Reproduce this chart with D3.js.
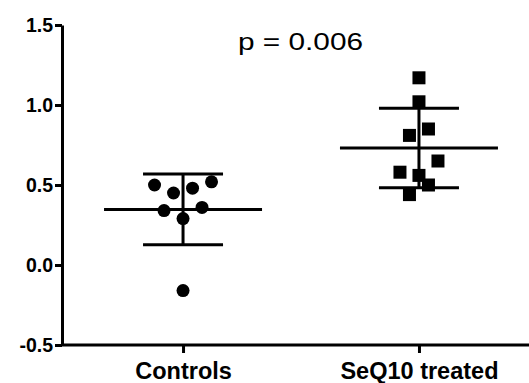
<!DOCTYPE html>
<html>
<head>
<meta charset="utf-8">
<script src="https://cdn.jsdelivr.net/npm/d3@7"></script>
<style>
  body { margin: 0; background: #fff; }
  svg { display: block; font-family: "Liberation Sans", Arial, sans-serif; }
</style>
</head>
<body>
<figure id="scatter" style="margin:0"></figure>
<script>
// data
const groups = ["Controls", "SeQ10 treated"];
const controlValues = [0.50, 0.45, 0.48, 0.52, 0.34, 0.36, 0.29, -0.16];
const controlSlots  = [-3, -1, 1, 3, -2, 2, 0, 0];
const treatedValues = [1.17, 1.02, 0.85, 0.81, 0.65, 0.58, 0.56, 0.50, 0.44];
const treatedSlots  = [0, 0, 1, -1, 2, -2, 0, 1, -1];
const yTicks = [-0.5, 0.0, 0.5, 1.0, 1.5];
const pLabel = "p = 0.006";

const width = 529, height = 383;
const svg = d3.select("figure#scatter")
  .append("svg")
  .attr("width", width)
  .attr("height", height);

const y = d3.scaleLinear().domain([-0.5, 1.5]).range([345, 25]);
const x = d3.scalePoint().domain(groups).range([62, 540]).padding(0.513);
const jitter = d3.scaleLinear().domain([-1, 1]).range([-9.5, 9.5]);

// Y axis
const yAxis = svg.append("g")
  .attr("transform", "translate(62,0)")
  .call(d3.axisLeft(y).tickValues(yTicks).tickSize(7).tickSizeOuter(0)
    .tickFormat(d => d.toFixed(1)));
yAxis.select(".domain").attr("stroke-width", 3);
yAxis.selectAll(".tick line").attr("stroke-width", 3);
yAxis.selectAll(".tick text")
  .attr("x", -9).attr("dy", "0.35em")
  .style("font-size", "19.5px").style("font-weight", "bold").attr("fill", "#000");

// X axis
const xAxis = svg.append("g")
  .attr("transform", "translate(0,345)")
  .call(d3.axisBottom(x).tickSize(8).tickSizeOuter(0));
xAxis.select(".domain").remove();
xAxis.append("line")
  .attr("x1", 61).attr("x2", width)
  .attr("stroke", "#000").attr("stroke-width", 3);
xAxis.selectAll(".tick line").attr("stroke-width", 3);
xAxis.selectAll(".tick text")
  .attr("y", 34).attr("dy", 0)
  .style("font-size", "23.5px").style("font-weight", "bold").attr("fill", "#000");

// points
const sets = [
  { group: groups[0], values: controlValues, slots: controlSlots, shape: "circle" },
  { group: groups[1], values: treatedValues, slots: treatedSlots, shape: "square" }
];

sets.forEach(s => {
  const cx = x(s.group);
  const m = d3.mean(s.values);
  const sd = d3.deviation(s.values);
  const pts = s.values.map((v, i) => ({ v: v, slot: s.slots[i] }));
  const g = svg.append("g");

  if (s.shape === "circle") {
    g.selectAll("circle")
      .data(pts)
      .enter()
      .append("circle")
      .attr("cx", d => cx + jitter(d.slot))
      .attr("cy", d => y(d.v))
      .attr("r", 6.5)
      .attr("fill", "#000");
  } else {
    g.selectAll("rect")
      .data(pts)
      .enter()
      .append("rect")
      .attr("x", d => cx + jitter(d.slot) - 6.5)
      .attr("y", d => y(d.v) - 6.5)
      .attr("width", 13)
      .attr("height", 13)
      .attr("fill", "#000");
  }

  // mean and SD bars
  const bars = svg.append("g").attr("stroke", "#000").attr("stroke-width", 3);
  bars.append("line")
    .attr("x1", cx - 79).attr("x2", cx + 79)
    .attr("y1", y(m)).attr("y2", y(m));
  bars.append("line")
    .attr("x1", cx).attr("x2", cx)
    .attr("y1", y(m + sd)).attr("y2", y(m - sd));
  [m + sd, m - sd].forEach(v => {
    bars.append("line")
      .attr("x1", cx - 40).attr("x2", cx + 40)
      .attr("y1", y(v)).attr("y2", y(v));
  });
});

// p value (the original is drawn a little wide)
svg.append("text")
  .attr("x", 238).attr("y", 50)
  .style("font-size", "23px")
  .attr("textLength", 125)
  .attr("lengthAdjust", "spacingAndGlyphs")
  .attr("fill", "#000")
  .text(pLabel);
</script>
</body>
</html>
